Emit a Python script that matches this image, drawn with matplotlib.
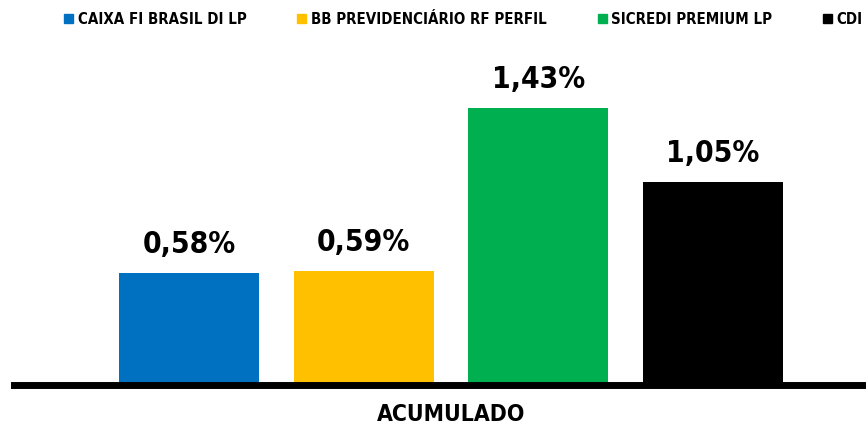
import matplotlib
matplotlib.use('Agg')
import matplotlib.pyplot as plt
from matplotlib.patches import Patch

plt.rcParams['font.family'] = ['DejaVu Sans']
plt.rcParams['font.stretch'] = 'condensed'
plt.rcParams['font.weight'] = 'bold'

# dados
fundos = ['CAIXA FI BRASIL DI LP', 'BB PREVIDENCIÁRIO RF PERFIL', 'SICREDI PREMIUM LP', 'CDI']
valores = [0.58, 0.59, 1.43, 1.05]
rotulos = ['0,58%', '0,59%', '1,43%', '1,05%']
cores = ['#0070C0', '#FFC000', '#00B050', '#000000']
categoria = 'ACUMULADO'

W, H = 866, 428
fig = plt.figure(figsize=(W/100, H/100), dpi=100)
ax = fig.add_axes([14/W, (H-385)/H, (W-14)/W, 345/H])

x = range(len(valores))
bars = ax.bar(x, valores, width=0.8015, color=cores, zorder=2)
for b, r in zip(bars, rotulos):
    ax.annotate(r, (b.get_x()+b.get_width()/2, b.get_height()), xytext=(0, 20),
                textcoords='offset pixels', ha='center', va='baseline',
                fontsize=21.5, fontweight='bold')

ax.set_xlim(-1.002, 3.876)
ax.set_ylim(0, 1.783)
ax.set_yticks([])
ax.set_xticks([1.5])
ax.set_xticklabels([categoria], fontsize=16.5, fontweight='bold')
ax.tick_params(axis='x', length=0, pad=13)
for s in ['top', 'right', 'left']:
    ax.spines[s].set_visible(False)
ax.spines['bottom'].set_linewidth(5)
ax.spines['bottom'].set_zorder(3)

handles = [Patch(color=c, label=f) for c, f in zip(cores, fundos)]
fig.legend(handles=handles, loc='center left', bbox_to_anchor=(64/W, (H-19.5)/H),
           ncol=4, frameon=False, handlelength=0.6, handleheight=0.6,
           handletextpad=0.3, columnspacing=3.4, borderpad=0, borderaxespad=0,
           prop={'weight': 'bold', 'size': 10.8, 'stretch': 'condensed'})

fig.savefig('out.png', dpi=100)
